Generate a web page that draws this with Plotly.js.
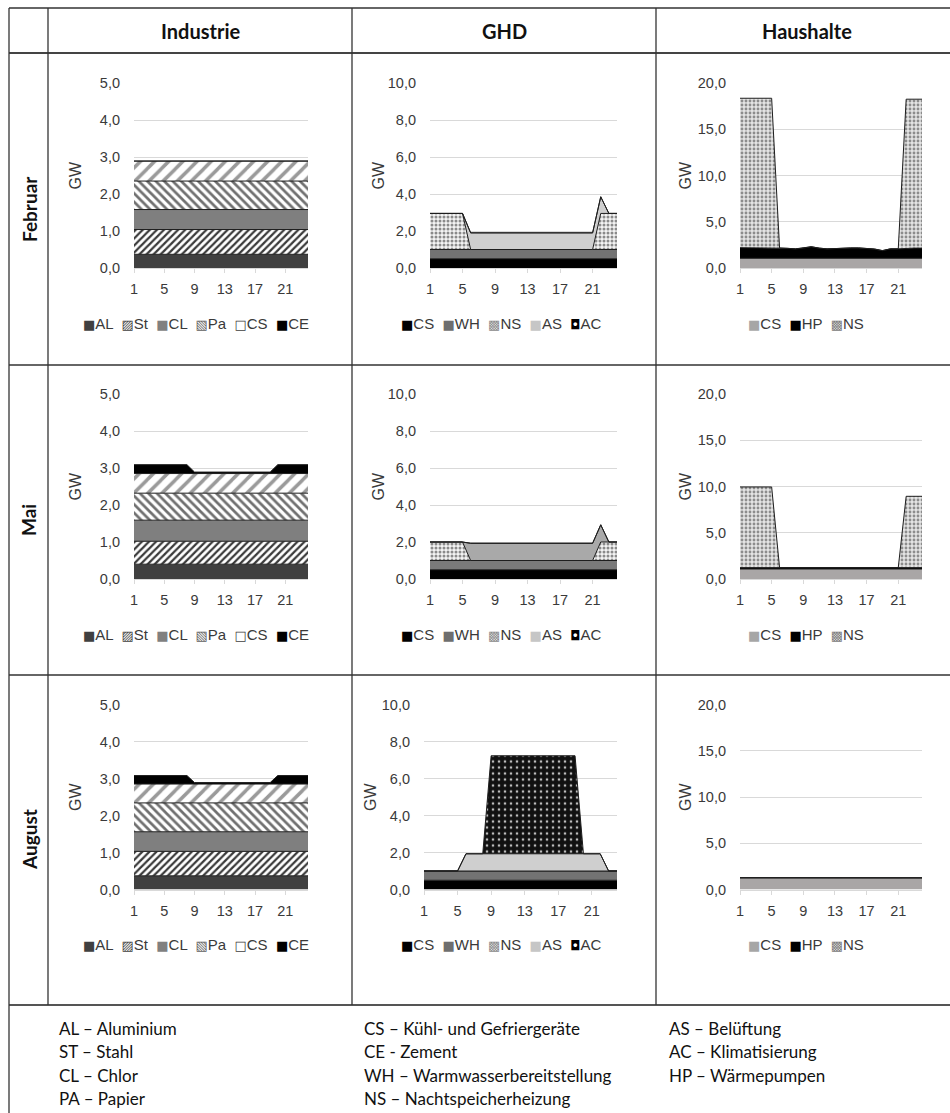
<!DOCTYPE html>
<html><head><meta charset="utf-8">
<script src="https://cdn.plot.ly/plotly-3.0.1.min.js"></script>
<style>html,body{margin:0;padding:0;background:#fff}</style>
</head><body><div id="chart" style="width:950px;height:1113px"></div>
<script>
// ---------------- data ----------------
var hours = [1,2,3,4,5,6,7,8,9,10,11,12,13,14,15,16,17,18,19,20,21,22,23,24];
var xTickVals = [1,5,9,13,17,21];
var xTickText = ['1','5','9','13','17','21'];
var months = ['Februar','Mai','August'];
var sectors = ['Industrie','GHD','Haushalte'];
var indSeries = ['AL','St','CL','Pa','CS','CE'];
var ghdSeries = ['CS','WH','NS','AS','AC'];
var hhSeries = ['CS','HP','NS'];

// Industrie - Februar
var indFebAL = [0.37,0.37,0.37,0.37,0.37,0.37,0.37,0.37,0.37,0.37,0.37,0.37,0.37,0.37,0.37,0.37,0.37,0.37,0.37,0.37,0.37,0.37,0.37,0.37];
var indFebSt = [0.67,0.67,0.67,0.67,0.67,0.67,0.67,0.67,0.67,0.67,0.67,0.67,0.67,0.67,0.67,0.67,0.67,0.67,0.67,0.67,0.67,0.67,0.67,0.67];
var indFebCL = [0.54,0.54,0.54,0.54,0.54,0.54,0.54,0.54,0.54,0.54,0.54,0.54,0.54,0.54,0.54,0.54,0.54,0.54,0.54,0.54,0.54,0.54,0.54,0.54];
var indFebPa = [0.77,0.77,0.77,0.77,0.77,0.77,0.77,0.77,0.77,0.77,0.77,0.77,0.77,0.77,0.77,0.77,0.77,0.77,0.77,0.77,0.77,0.77,0.77,0.77];
var indFebCS = [0.54,0.54,0.54,0.54,0.54,0.54,0.54,0.54,0.54,0.54,0.54,0.54,0.54,0.54,0.54,0.54,0.54,0.54,0.54,0.54,0.54,0.54,0.54,0.54];
var indFebCE = [0,0,0,0,0,0,0,0,0,0,0,0,0,0,0,0,0,0,0,0,0,0,0,0];
// Industrie - Mai
var indMaiAL = [0.40,0.40,0.40,0.40,0.40,0.40,0.40,0.40,0.40,0.40,0.40,0.40,0.40,0.40,0.40,0.40,0.40,0.40,0.40,0.40,0.40,0.40,0.40,0.40];
var indMaiSt = [0.62,0.62,0.62,0.62,0.62,0.62,0.62,0.62,0.62,0.62,0.62,0.62,0.62,0.62,0.62,0.62,0.62,0.62,0.62,0.62,0.62,0.62,0.62,0.62];
var indMaiCL = [0.57,0.57,0.57,0.57,0.57,0.57,0.57,0.57,0.57,0.57,0.57,0.57,0.57,0.57,0.57,0.57,0.57,0.57,0.57,0.57,0.57,0.57,0.57,0.57];
var indMaiPa = [0.73,0.73,0.73,0.73,0.73,0.73,0.73,0.73,0.73,0.73,0.73,0.73,0.73,0.73,0.73,0.73,0.73,0.73,0.73,0.73,0.73,0.73,0.73,0.73];
var indMaiCS = [0.53,0.53,0.53,0.53,0.53,0.53,0.53,0.53,0.53,0.53,0.53,0.53,0.53,0.53,0.53,0.53,0.53,0.53,0.53,0.53,0.53,0.53,0.53,0.53];
var indMaiCE = [0.24,0.24,0.24,0.24,0.24,0.24,0.24,0.24,0.04,0.04,0.04,0.04,0.04,0.04,0.04,0.04,0.04,0.04,0.04,0.24,0.24,0.24,0.24,0.24];
// Industrie - August
var indAugAL = [0.37,0.37,0.37,0.37,0.37,0.37,0.37,0.37,0.37,0.37,0.37,0.37,0.37,0.37,0.37,0.37,0.37,0.37,0.37,0.37,0.37,0.37,0.37,0.37];
var indAugSt = [0.66,0.66,0.66,0.66,0.66,0.66,0.66,0.66,0.66,0.66,0.66,0.66,0.66,0.66,0.66,0.66,0.66,0.66,0.66,0.66,0.66,0.66,0.66,0.66];
var indAugCL = [0.53,0.53,0.53,0.53,0.53,0.53,0.53,0.53,0.53,0.53,0.53,0.53,0.53,0.53,0.53,0.53,0.53,0.53,0.53,0.53,0.53,0.53,0.53,0.53];
var indAugPa = [0.78,0.78,0.78,0.78,0.78,0.78,0.78,0.78,0.78,0.78,0.78,0.78,0.78,0.78,0.78,0.78,0.78,0.78,0.78,0.78,0.78,0.78,0.78,0.78];
var indAugCS = [0.51,0.51,0.51,0.51,0.51,0.51,0.51,0.51,0.51,0.51,0.51,0.51,0.51,0.51,0.51,0.51,0.51,0.51,0.51,0.51,0.51,0.51,0.51,0.51];
var indAugCE = [0.23,0.23,0.23,0.23,0.23,0.23,0.23,0.23,0.04,0.04,0.04,0.04,0.04,0.04,0.04,0.04,0.04,0.04,0.04,0.23,0.23,0.23,0.23,0.23];

// GHD - Februar
var ghdFebCS = [0.5,0.5,0.5,0.5,0.5,0.5,0.5,0.5,0.5,0.5,0.5,0.5,0.5,0.5,0.5,0.5,0.5,0.5,0.5,0.5,0.5,0.5,0.5,0.5];
var ghdFebWH = [0.5,0.5,0.5,0.5,0.5,0.5,0.5,0.5,0.5,0.5,0.5,0.5,0.5,0.5,0.5,0.5,0.5,0.5,0.5,0.5,0.5,0.5,0.5,0.5];
var ghdFebNS = [1.95,1.95,1.95,1.95,1.95,0,0,0,0,0,0,0,0,0,0,0,0,0,0,0,0,1.95,1.95,1.95];
var ghdFebAS = [0,0,0,0,0,0.9,0.9,0.9,0.9,0.9,0.9,0.9,0.9,0.9,0.9,0.9,0.9,0.9,0.9,0.9,0.9,0.9,0,0];
var ghdFebAC = [0,0,0,0,0,0,0,0,0,0,0,0,0,0,0,0,0,0,0,0,0,0,0,0];
// GHD - Mai
var ghdMaiCS = [0.5,0.5,0.5,0.5,0.5,0.5,0.5,0.5,0.5,0.5,0.5,0.5,0.5,0.5,0.5,0.5,0.5,0.5,0.5,0.5,0.5,0.5,0.5,0.5];
var ghdMaiWH = [0.5,0.5,0.5,0.5,0.5,0.5,0.5,0.5,0.5,0.5,0.5,0.5,0.5,0.5,0.5,0.5,0.5,0.5,0.5,0.5,0.5,0.5,0.5,0.5];
var ghdMaiNS = [1.0,1.0,1.0,1.0,1.0,0,0,0,0,0,0,0,0,0,0,0,0,0,0,0,0,1.0,1.0,1.0];
var ghdMaiAS = [0,0,0,0,0,0.93,0.93,0.93,0.93,0.93,0.93,0.93,0.93,0.93,0.93,0.93,0.93,0.93,0.93,0.93,0.93,0.93,0,0];
var ghdMaiAC = [0,0,0,0,0,0,0,0,0,0,0,0,0,0,0,0,0,0,0,0,0,0,0,0];
// GHD - August
var ghdAugCS = [0.5,0.5,0.5,0.5,0.5,0.5,0.5,0.5,0.5,0.5,0.5,0.5,0.5,0.5,0.5,0.5,0.5,0.5,0.5,0.5,0.5,0.5,0.5,0.5];
var ghdAugWH = [0.5,0.5,0.5,0.5,0.5,0.5,0.5,0.5,0.5,0.5,0.5,0.5,0.5,0.5,0.5,0.5,0.5,0.5,0.5,0.5,0.5,0.5,0.5,0.5];
var ghdAugNS = [0,0,0,0,0,0,0,0,0,0,0,0,0,0,0,0,0,0,0,0,0,0,0,0];
var ghdAugAS = [0,0,0,0,0,0.93,0.93,0.93,0.93,0.93,0.93,0.93,0.93,0.93,0.93,0.93,0.93,0.93,0.93,0.93,0.93,0.93,0,0];
var ghdAugAC = [0,0,0,0,0,0,0,0,5.3,5.3,5.3,5.3,5.3,5.3,5.3,5.3,5.3,5.3,5.3,0,0,0,0,0];

// Haushalte - Februar
var hhFebCS = [1.05,1.05,1.05,1.05,1.05,1.05,1.05,1.05,1.05,1.05,1.05,1.05,1.05,1.05,1.05,1.05,1.05,1.05,1.05,1.05,1.05,1.05,1.05,1.05];
var hhFebHP = [1.15,1.15,1.15,1.15,1.15,1.12,1.08,1.02,1.10,1.25,1.10,1.02,1.05,1.10,1.12,1.12,1.05,1.00,0.83,1.02,1.02,1.10,1.10,1.10];
var hhFebNS = [16.15,16.15,16.15,16.15,16.15,0,0,0,0,0,0,0,0,0,0,0,0,0,0,0,0,16.1,16.1,16.1];
// Haushalte - Mai
var hhMaiCS = [1.08,1.08,1.08,1.08,1.08,1.08,1.08,1.08,1.08,1.08,1.08,1.08,1.08,1.08,1.08,1.08,1.08,1.08,1.08,1.08,1.08,1.08,1.08,1.08];
var hhMaiHP = [0.15,0.15,0.15,0.15,0.15,0.15,0.15,0.15,0.15,0.15,0.15,0.15,0.15,0.15,0.15,0.15,0.15,0.15,0.15,0.15,0.15,0.15,0.15,0.15];
var hhMaiNS = [8.72,8.72,8.72,8.72,8.72,0,0,0,0,0,0,0,0,0,0,0,0,0,0,0,0,7.71,7.71,7.71];
// Haushalte - August
var hhAugCS = [1.27,1.27,1.27,1.27,1.27,1.27,1.27,1.27,1.27,1.27,1.22,1.22,1.22,1.22,1.22,1.22,1.22,1.22,1.22,1.26,1.26,1.26,1.26,1.26];
var hhAugHP = [0,0,0,0,0,0,0,0,0,0,0,0,0,0,0,0,0,0,0,0,0,0,0,0];
var hhAugNS = [0,0,0,0,0,0,0,0,0,0,0,0,0,0,0,0,0,0,0,0,0,0,0,0];

var yMax = [5, 10, 20];
var yDtick = [1, 2, 5];

var glossary = [
  ['AL – Aluminium','ST – Stahl','CL – Chlor','PA – Papier'],
  ['CS – Kühl- und Gefriergeräte','CE - Zement','WH – Warmwasserbereitstellung','NS – Nachtspeicherheizung'],
  ['AS – Belüftung','AC – Klimatisierung','HP – Wärmepumpen']
];

// ---------------- structure ----------------
var panelData = [
  [[indFebAL,indFebSt,indFebCL,indFebPa,indFebCS,indFebCE],[ghdFebCS,ghdFebWH,ghdFebNS,ghdFebAS,ghdFebAC],[hhFebCS,hhFebHP,hhFebNS]],
  [[indMaiAL,indMaiSt,indMaiCL,indMaiPa,indMaiCS,indMaiCE],[ghdMaiCS,ghdMaiWH,ghdMaiNS,ghdMaiAS,ghdMaiAC],[hhMaiCS,hhMaiHP,hhMaiNS]],
  [[indAugAL,indAugSt,indAugCL,indAugPa,indAugCS,indAugCE],[ghdAugCS,ghdAugWH,ghdAugNS,ghdAugAS,ghdAugAC],[hhAugCS,hhAugHP,hhAugNS]]
];
var colSeries = [indSeries, ghdSeries, hhSeries];

// ---------------- styles ----------------
var OUT = '#1e1e1e';
var styles = [
  { AL:{fill:'#404040'},
    St:{fill:'#ffffff', pat:{shape:'/', bgcolor:'#ffffff', fgcolor:'#3a3a3a', size:5, solidity:0.45}},
    CL:{fill:'#7f7f7f'},
    Pa:{fill:'#ffffff', pat:{shape:'\\', bgcolor:'#ffffff', fgcolor:'#707070', size:6, solidity:0.45}},
    CS:{fill:'#ffffff', pat:{shape:'/', bgcolor:'#ffffff', fgcolor:'#9a9a9a', size:10, solidity:0.35}},
    CE:{fill:'#000000'} },
  { CS:{fill:'#000000'},
    WH:{fill:'#737373'},
    NS:{fill:'#eeeeee', pat:{shape:'.', bgcolor:'#f4f4f4', fgcolor:'#8a8a8a', size:4, solidity:0.45}},
    AS:{fill:'#cfcfcf'},
    AC:{fill:'#111111', pat:{shape:'.', bgcolor:'#111111', fgcolor:'#bdbdbd', size:6, solidity:0.15}} },
  { CS:{fill:'#a9a6a6'},
    HP:{fill:'#000000'},
    NS:{fill:'#d4d4d4', pat:{shape:'.', bgcolor:'#e4e4e4', fgcolor:'#8c8c8c', size:4, solidity:0.4}} }
];
var monthStyleOverride = {'1-1-AS':'#a9a9a9', '1-1-WH':'#7a7a7a'};

var glyphs = [
  {AL:['■','#404040'], St:['▨','#404040'], CL:['■','#808080'], Pa:['▧','#606060'], CS:['□','#404040'], CE:['■','#000000']},
  {CS:['■','#000000'], WH:['■','#6e6e6e'], NS:['▩','#8a8a8a'], AS:['■','#c6c6c6'], AC:['◘','#000000']},
  {CS:['■','#a6a6a6'], HP:['■','#000000'], NS:['▩','#7a7a7a']}
];

// ---------------- layout geometry (pixels) ----------------
var W = 950, H = 1113;
function fx(p){ return p / W; }
function fy(p){ return 1 - p / H; }
var colX = [[134,308],[430,617],[740,922]];
var rowY = [[83,268],[394,579],[704.5,889.5]];
var gwOffset = [59, 52, 55];
var legendCX = [196, 501, 806];

var tickFont = {family:'Liberation Sans, Arial, sans-serif', size:14.5, color:'#3a3a3a'};

var traces = [];
var layout = {
  width: W, height: H,
  margin: {l:0, r:0, t:0, b:0},
  paper_bgcolor: '#ffffff', plot_bgcolor: '#ffffff',
  separators: ',.',
  showlegend: false,
  annotations: [], shapes: []
};

for (var r = 0; r < 3; r++) {
  for (var c = 0; c < 3; c++) {
    var n = r * 3 + c + 1;
    var xs = n === 1 ? '' : String(n);
    var x0 = colX[c][0], x1 = colX[c][1];
    if (r === 2 && c === 1) x0 = 424;
    var series = colSeries[c];
    for (var s = 0; s < series.length; s++) {
      var st = styles[c][series[s]];
      var fillc = monthStyleOverride[r + '-' + c + '-' + series[s]] || st.fill;
      var tr = {
        type: 'scatter', mode: 'lines',
        x: hours, y: panelData[r][c][s],
        xaxis: 'x' + xs, yaxis: 'y' + xs,
        stackgroup: 'g' + n,
        line: {color: OUT, width: 1},
        fillcolor: fillc,
        name: series[s], showlegend: false, hoverinfo: 'skip'
      };
      if (st.pat) tr.fillpattern = st.pat;
      traces.push(tr);
    }
    layout['xaxis' + xs] = {
      domain: [fx(x0), fx(x1)], anchor: 'y' + xs,
      range: [1, 24], tickmode: 'array', tickvals: xTickVals, ticktext: xTickText,
      showgrid: false, zeroline: false, showline: true, linecolor: '#d9d9d9', linewidth: 1,
      ticks: 'outside', ticklen: 4, tickcolor: '#d9d9d9', tickfont: tickFont,
      ticklabelstandoff: 4, fixedrange: true
    };
    layout['yaxis' + xs] = {
      domain: [fy(rowY[r][1]), fy(rowY[r][0])], anchor: 'x' + xs,
      range: [0, yMax[c]], dtick: yDtick[c], tickformat: '.1f',
      showgrid: true, gridcolor: '#d9d9d9', gridwidth: 1,
      zeroline: false, showline: false, ticks: '', tickfont: tickFont,
      ticklabelstandoff: 13, fixedrange: true
    };
    // GW label
    layout.annotations.push({
      xref:'paper', yref:'paper', x: fx(x0 - gwOffset[c] - (r===2&&c===1 ? 2 : 0)), y: fy((rowY[r][0] + rowY[r][1]) / 2),
      text:'GW', textangle:-90, showarrow:false, xanchor:'center', yanchor:'middle',
      font:{family:'Liberation Sans, Arial, sans-serif', size:16, color:'#3a3a3a'}
    });
    // legend
    var parts = [];
    for (var s2 = 0; s2 < series.length; s2++) {
      var g = glyphs[c][series[s2]];
      parts.push('<span style="font-family:DejaVu Sans;font-size:13px;fill:' + g[1] + '">' + g[0] + '</span>' + series[s2]);
    }
    layout.annotations.push({
      xref:'paper', yref:'paper', x: fx(legendCX[c]), y: fy(rowY[r][1] + 55),
      text: parts.join(' &nbsp;'), showarrow:false, xanchor:'center', yanchor:'middle',
      font:{family:'Liberation Sans, Arial, sans-serif', size:15, color:'#3a3a3a'}
    });
  }
}

// header and row labels
var headerCX = [200, 504, 807];
for (var c2 = 0; c2 < 3; c2++) {
  layout.annotations.push({xref:'paper', yref:'paper', x: fx(headerCX[c2]), y: fy(31),
    text:'<b>' + sectors[c2] + '</b>', showarrow:false, xanchor:'center', yanchor:'middle',
    font:{family:'Lato, sans-serif', size:20, color:'#111111'}});
}
var rowCY = [209, 520, 840];
for (var r2 = 0; r2 < 3; r2++) {
  layout.annotations.push({xref:'paper', yref:'paper', x: fx(29), y: fy(rowCY[r2]),
    text:'<b>' + months[r2] + '</b>', textangle:-90, showarrow:false, xanchor:'center', yanchor:'middle',
    font:{family:'Lato, sans-serif', size:19, color:'#111111'}});
}
// glossary
var glossX = [57, 362, 667];
var glossY = [1028, 1051, 1075, 1098];
for (var gc = 0; gc < glossary.length; gc++) {
  for (var gl = 0; gl < glossary[gc].length; gl++) {
    layout.annotations.push({xref:'paper', yref:'paper', x: fx(glossX[gc]), y: fy(glossY[gl]),
      text: glossary[gc][gl], showarrow:false, xanchor:'left', yanchor:'middle',
      font:{family:'Lato, sans-serif', size:17, color:'#111111'}});
  }
}

// table lines
function hline(py, xa, xb, w, col){ layout.shapes.push({type:'line', xref:'paper', yref:'paper', x0:fx(xa), x1:fx(xb), y0:fy(py), y1:fy(py), line:{color:col||'#333333', width:w||1.3}}); }
function vline(px, ya, yb, w, col){ layout.shapes.push({type:'line', xref:'paper', yref:'paper', x0:fx(px), x1:fx(px), y0:fy(ya), y1:fy(yb), line:{color:col||'#333333', width:w||1.3}}); }
hline(8, 9, 950);
hline(53, 9, 950, 2, '#444444');
hline(365, 9, 950);
hline(675, 9, 950);
hline(1005, 9, 950, 2.2, '#555555');
vline(9, 8, 1113);
vline(48, 8, 1005);
vline(352, 8, 1005);
vline(656, 8, 1005);

Plotly.newPlot('chart', traces, layout, {staticPlot:true, displayModeBar:false});
</script></body></html>
